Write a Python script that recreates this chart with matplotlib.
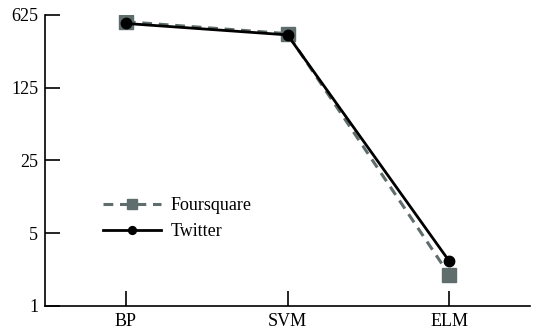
import matplotlib
matplotlib.use("Agg")
import matplotlib.pyplot as plt
from matplotlib.ticker import FixedLocator, FixedFormatter, NullLocator

categories = ["BP", "SVM", "ELM"]
foursquare = [535, 411, 2.0]
twitter = [515, 400, 2.7]
yticks = [1, 5, 25, 125, 625]
ytick_labels = ["1", "5", "25", "125", "625"]

plt.rcParams['font.family'] = ['Liberation Serif', 'DejaVu Serif']

fig = plt.figure(figsize=(5.37, 3.32), dpi=100)
ax = fig.add_axes([45/537, 26/332, 485/537, (306-14.7)/332])

x = list(range(len(categories)))
ax.plot(x, foursquare, color='#5f6d6d', lw=2.2, ls=(0, (3.2, 2.2)), marker='s',
        markersize=10, label='Foursquare', zorder=2)
ax.plot(x, twitter, color='black', lw=2.0, ls='-', marker='o',
        markersize=7.5, label='Twitter', zorder=3)

ax.set_yscale('log')
ax.set_ylim(1, 625)
ax.set_xlim(-0.5, 2.5)
ax.yaxis.set_major_locator(FixedLocator(yticks))
ax.yaxis.set_major_formatter(FixedFormatter(ytick_labels))
ax.yaxis.set_minor_locator(NullLocator())
ax.set_xticks(x)
ax.set_xticklabels(categories)

for s in ['top', 'right']:
    ax.spines[s].set_visible(False)
for s in ['left', 'bottom']:
    ax.spines[s].set_linewidth(1.2)
ax.tick_params(axis='both', direction='in', length=11, width=1.2, labelsize=13, pad=5)

ax.legend(loc='upper left', bbox_to_anchor=(0.087, 0.429), frameon=False, fontsize=13,
          handlelength=3.2, handletextpad=0.5, labelspacing=0.5, markerscale=0.75)

fig.savefig('out.png', dpi=100)
